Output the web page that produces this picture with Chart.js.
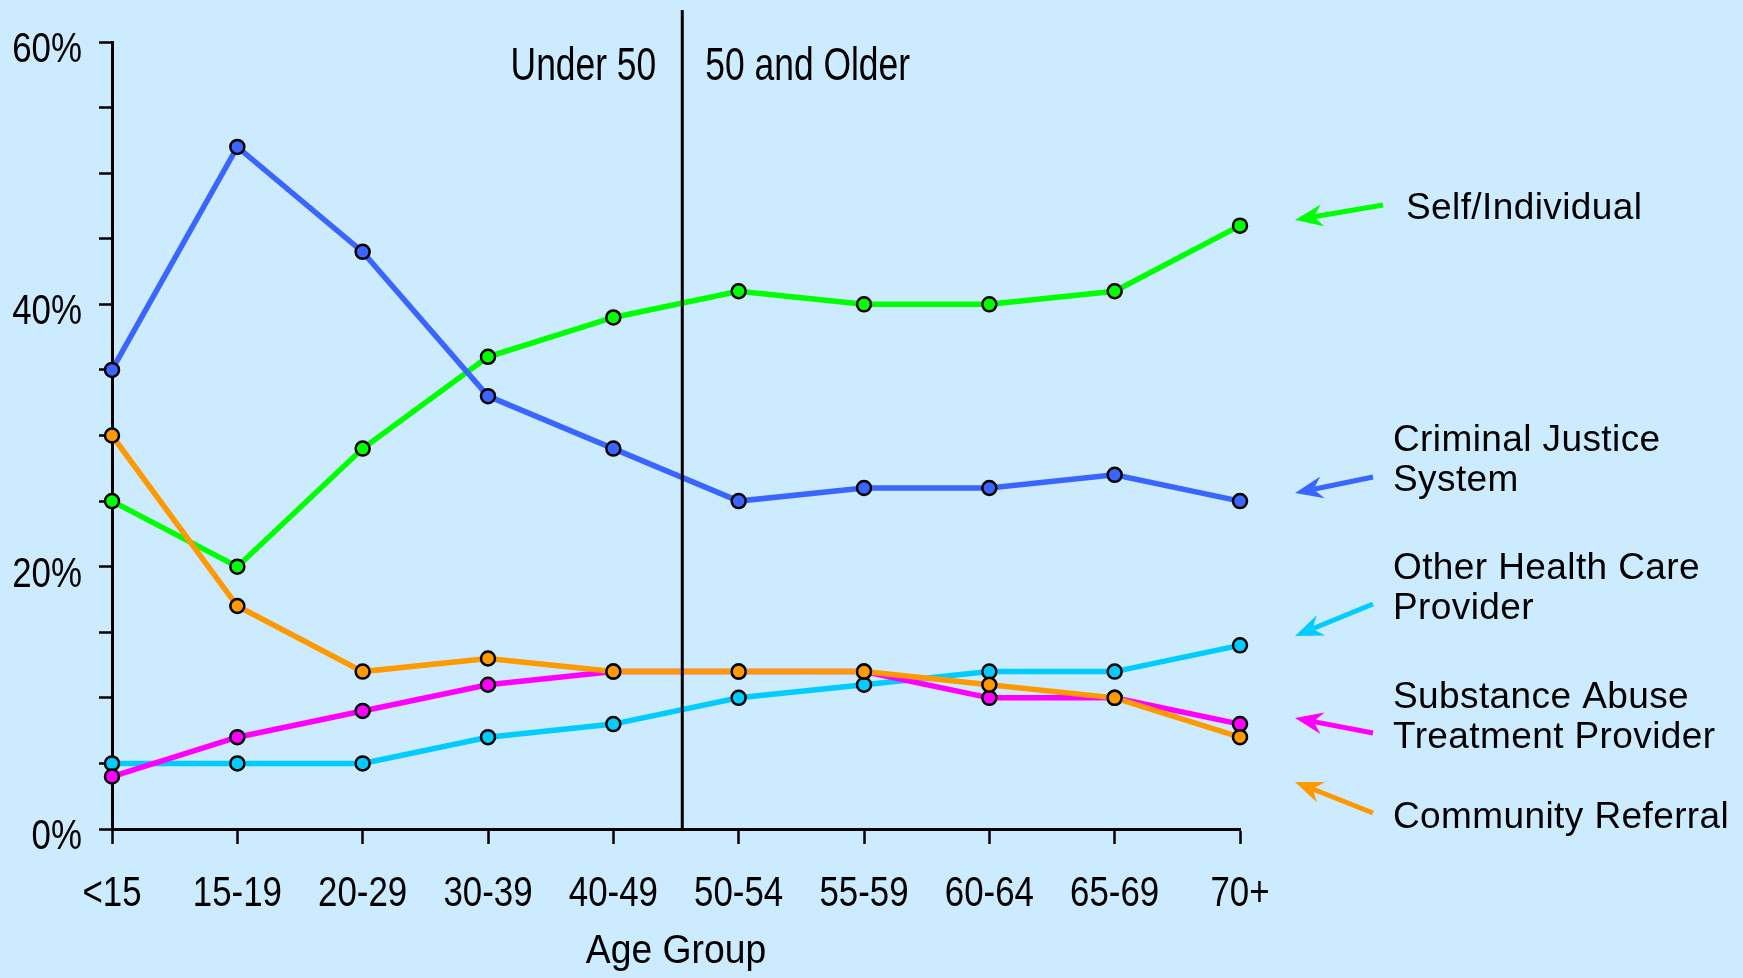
<!DOCTYPE html>
<html>
<head>
<meta charset="utf-8">
<script src="https://cdn.jsdelivr.net/npm/chart.js@4"></script>
<style>
  html, body { margin: 0; padding: 0; background: #ccebff; }
  #wrap { width: 1743px; height: 978px; }
</style>
</head>
<body>
<div id="wrap"><canvas id="referralChart" width="1743" height="978"></canvas></div>
<script>
const ageGroups = ["<15", "15-19", "20-29", "30-39", "40-49", "50-54", "55-59", "60-64", "65-69", "70+"];
const selfIndividual = [25, 20, 29, 36, 39, 41, 40, 40, 41, 46];
const criminalJustice = [35, 52, 44, 33, 29, 25, 26, 26, 27, 25];
const otherHealthCare = [5, 5, 5, 7, 8, 10, 11, 12, 12, 14];
const substanceAbuse = [4, 7, 9, 11, 12, 12, 12, 10, 10, 8];
const communityReferral = [30, 17, 12, 13, 12, 12, 12, 11, 10, 7];
const labelledTicks = [0, 20, 40, 60];
const splitAt = 4.55; // between 40-49 and 50-54
const splitLabels = ["Under 50", "50 and Older"];
const xTitle = "Age Group";

// no narrow font installed, so squeeze Liberation Sans sideways
const sans = '"Liberation Sans", Arial, sans-serif';

const series = [
  { name: ["Community Referral"], data: communityReferral, color: "#ff9900" },
  { name: ["Substance Abuse", "Treatment Provider"], data: substanceAbuse, color: "#ff00ff" },
  { name: ["Other Health Care", "Provider"], data: otherHealthCare, color: "#00ccff" },
  { name: ["Criminal Justice", "System"], data: criminalJustice, color: "#3a66ff" },
  { name: ["Self/Individual"], data: selfIndividual, color: "#00ff00" },
];

// where each arrow + label sits on the right side
const legendSpots = {
  "Self/Individual": { tail: [1383, 205], tip: [1295, 220], tx: 1406, ty: 209 },
  "Criminal Justice": { tail: [1373, 477], tip: [1295, 493], tx: 1393, ty: 441 },
  "Other Health Care": { tail: [1373, 604], tip: [1295, 636], tx: 1393, ty: 569 },
  "Substance Abuse": { tail: [1373, 733], tip: [1295, 718], tx: 1393, ty: 698 },
  "Community Referral": { tail: [1373, 813], tip: [1295, 782], tx: 1393, ty: 818 },
};

function squeezed(ctx, text, x, y, sx, align) {
  ctx.save();
  ctx.translate(x, y);
  ctx.scale(sx, 1);
  ctx.textAlign = align;
  ctx.textBaseline = "alphabetic";
  ctx.fillText(text, 0, 0);
  ctx.restore();
}

function drawArrow(ctx, x1, y1, x2, y2, color) {
  const ang = Math.atan2(y2 - y1, x2 - x1);
  const len = 28, half = 11, notch = 19;
  const cx = Math.cos(ang), sy = Math.sin(ang);
  const nx = x2 - cx * notch, ny = y2 - sy * notch;
  ctx.strokeStyle = color;
  ctx.fillStyle = color;
  ctx.lineWidth = 5;
  ctx.beginPath();
  ctx.moveTo(x1, y1);
  ctx.lineTo(nx, ny);
  ctx.stroke();
  const bx = x2 - cx * len, by = y2 - sy * len;
  const px = -sy * half, py = cx * half;
  ctx.beginPath();
  ctx.moveTo(x2, y2);
  ctx.lineTo(bx + px, by + py);
  ctx.lineTo(nx, ny);
  ctx.lineTo(bx - px, by - py);
  ctx.closePath();
  ctx.fill();
}

const annotations = {
  id: "annotations",
  afterDatasetsDraw(chart) {
    const { ctx, chartArea, scales: { x } } = chart;
    const xs = x.getPixelForValue(splitAt);
    ctx.save();
    ctx.strokeStyle = "#000";
    ctx.lineWidth = 3;
    ctx.beginPath();
    ctx.moveTo(xs, 10);
    ctx.lineTo(xs, chartArea.bottom);
    ctx.stroke();
    ctx.fillStyle = "#000";
    ctx.font = "46px " + sans;
    squeezed(ctx, splitLabels[0], xs - 26, 80, 0.77, "right");
    squeezed(ctx, splitLabels[1], xs + 23, 80, 0.77, "left");
    ctx.restore();
  },
  afterDraw(chart) {
    const { ctx, chartArea, scales: { x, y } } = chart;
    ctx.save();
    ctx.fillStyle = "#000";

    // axis labels
    ctx.font = "42px " + sans;
    x.ticks.forEach((t, i) => {
      squeezed(ctx, x.getLabelForValue(t.value), x.getPixelForTick(i), chartArea.bottom + 77, 0.83, "center");
    });
    y.ticks.forEach((t, i) => {
      if (labelledTicks.includes(t.value)) {
        squeezed(ctx, t.value + "%", chartArea.left - 30, y.getPixelForTick(i) + 20, 0.83, "right");
      }
    });
    ctx.font = "41px " + sans;
    squeezed(ctx, xTitle, (chartArea.left + chartArea.right) / 2, chartArea.bottom + 134, 0.91, "center");

    // arrow legend
    series.forEach((s) => {
      const spot = legendSpots[s.name[0]];
      drawArrow(ctx, spot.tail[0], spot.tail[1], spot.tip[0], spot.tip[1], s.color);
      ctx.fillStyle = "#000";
      ctx.font = "37px " + sans;
      ctx.letterSpacing = "0.4px";
      ctx.textAlign = "left";
      ctx.textBaseline = "middle";
      s.name.forEach((line, i) => ctx.fillText(line, spot.tx, spot.ty + i * 40));
      ctx.letterSpacing = "0px";
    });
    ctx.restore();
  },
};

const ctx = document.getElementById("referralChart").getContext("2d");
new Chart(ctx, {
  type: "line",
  data: {
    labels: ageGroups,
    datasets: series.map((s) => ({
      label: s.name.join(" "),
      data: s.data,
      borderColor: s.color,
      backgroundColor: s.color,
      pointBackgroundColor: s.color,
      pointBorderColor: "#000",
      pointBorderWidth: 2.5,
      pointRadius: 7,
      borderWidth: 5.5,
      tension: 0,
      clip: false,
    })),
  },
  options: {
    responsive: false,
    animation: false,
    layout: { padding: { top: 42, right: 503, left: 0, bottom: 0 } },
    plugins: {
      legend: { display: false },
      tooltip: { enabled: false },
    },
    scales: {
      x: {
        grid: { drawOnChartArea: false, tickLength: 15, tickColor: "#000", tickWidth: 2.5 },
        border: { color: "#000", width: 3 },
        ticks: { display: false, autoSkip: false },
        afterFit: (s) => { s.height = 149; },
      },
      y: {
        min: 0,
        max: 60,
        grid: { drawOnChartArea: false, tickLength: 13, tickColor: "#000", tickWidth: 2.5 },
        border: { color: "#000", width: 3 },
        ticks: { display: false, stepSize: 5, autoSkip: false },
        afterFit: (s) => { s.width = 112; },
      },
    },
  },
  plugins: [annotations],
});
</script>
</body>
</html>
